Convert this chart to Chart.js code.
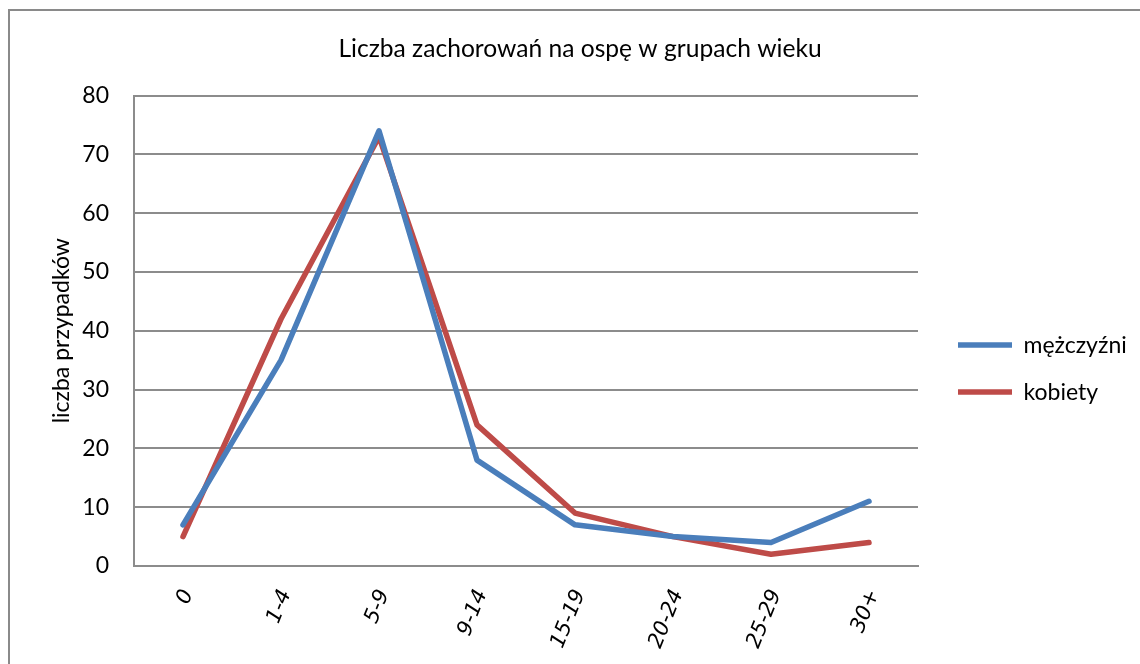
<!DOCTYPE html>
<html><head><meta charset="utf-8">
<script src="https://cdn.jsdelivr.net/npm/chart.js@4"></script>
<style>
html,body{margin:0;padding:0;background:#fff;overflow:hidden;}
#frame{position:absolute;left:8px;top:9px;width:1200px;height:720px;border:2px solid #8a8a8a;box-sizing:border-box;}
#wrap{position:absolute;left:0;top:0;width:1140px;height:664px;}
</style></head><body>
<div id="frame"></div>
<div id="wrap"><canvas id="c" width="1140" height="664"></canvas></div>
<script>
const categories = ['0', '1-4', '5-9', '9-14', '15-19', '20-24', '25-29', '30+'];
const menValues = [7, 35, 74, 18, 7, 5, 4, 11];
const womenValues = [5, 42, 73, 24, 9, 5, 2, 4];
const seriesNames = ['mężczyźni', 'kobiety'];
const chartTitle = 'Liczba zachorowań na ospę w grupach wieku';
const yAxisTitle = 'liczba przypadków';
const yMin = 0, yMax = 80, yStep = 10;

const LATO = 'Lato';
const legendFontSize = 23, legendPad = 24, legendLineW = 54;

// layout: work out the right padding so the legend starts where the reference one does
const mctx = document.createElement('canvas').getContext('2d');
mctx.font = legendFontSize + 'px ' + LATO;
const textW = Math.max(...seriesNames.map(s => mctx.measureText(s).width));
const legendW = legendPad + legendLineW + legendFontSize / 2 + textW + 10;
const legendLeft = 934;
const padR = Math.max(0, 1140 - (legendLeft + legendW));
const padL = padR + 20;
const plotLeft = 134;

new Chart(document.getElementById('c'), {
  type: 'line',
  data: {
    labels: categories,
    datasets: [
      {label: seriesNames[0], data: menValues, borderColor: '#4a7ebb', backgroundColor: '#4a7ebb',
       borderWidth: 5.5, pointRadius: 0, borderCapStyle: 'round', borderJoinStyle: 'round', tension: 0},
      {label: seriesNames[1], data: womenValues, borderColor: '#be4b48', backgroundColor: '#be4b48',
       borderWidth: 5.5, pointRadius: 0, borderCapStyle: 'round', borderJoinStyle: 'round', tension: 0}
    ]
  },
  options: {
    responsive: false,
    animation: false,
    layout: {padding: {left: padL, right: padR, top: 0, bottom: 0}},
    plugins: {
      title: {display: true, text: chartTitle, color: '#000',
        font: {family: LATO, size: 24.6, weight: 'normal'}, padding: {top: 34, bottom: 32}},
      legend: {
        position: 'right',
        maxWidth: 400,
        title: {display: true, text: '', font: {size: 61}, padding: 0},
        labels: {usePointStyle: true, pointStyle: 'line', pointStyleWidth: legendLineW, padding: legendPad,
          color: '#000', font: {family: LATO, size: legendFontSize}}
      },
      tooltip: {enabled: false}
    },
    scales: {
      x: {
        offset: true,
        grid: {display: false, drawTicks: false, offset: true},
        border: {display: true, color: '#8c8c8c', width: 2},
        ticks: {autoSkip: false, minRotation: 68, maxRotation: 68, padding: 20, labelOffset: 5, color: '#000',
          font: {family: 'DejaVu Sans', size: 21, style: 'italic'}},
        afterFit: s => { s.height = 98; }
      },
      y: {
        min: yMin, max: yMax,
        grid: {color: '#8c8c8c', lineWidth: 2, drawTicks: false},
        border: {display: true, color: '#8c8c8c', width: 2},
        ticks: {stepSize: yStep, padding: 25, color: '#000', font: {family: LATO, size: 23}},
        title: {display: true, text: yAxisTitle, color: '#000', font: {family: LATO, size: 23},
          padding: {top: 62 - padL - 13.8, bottom: 0}},
        afterFit: s => { s.width = plotLeft - padL; }
      },
      y2: {
        position: 'right', display: true,
        grid: {display: false, drawTicks: false}, border: {display: false},
        ticks: {display: false},
        afterFit: s => { s.width = 16; }
      }
    }
  }
});
</script>
</body></html>
